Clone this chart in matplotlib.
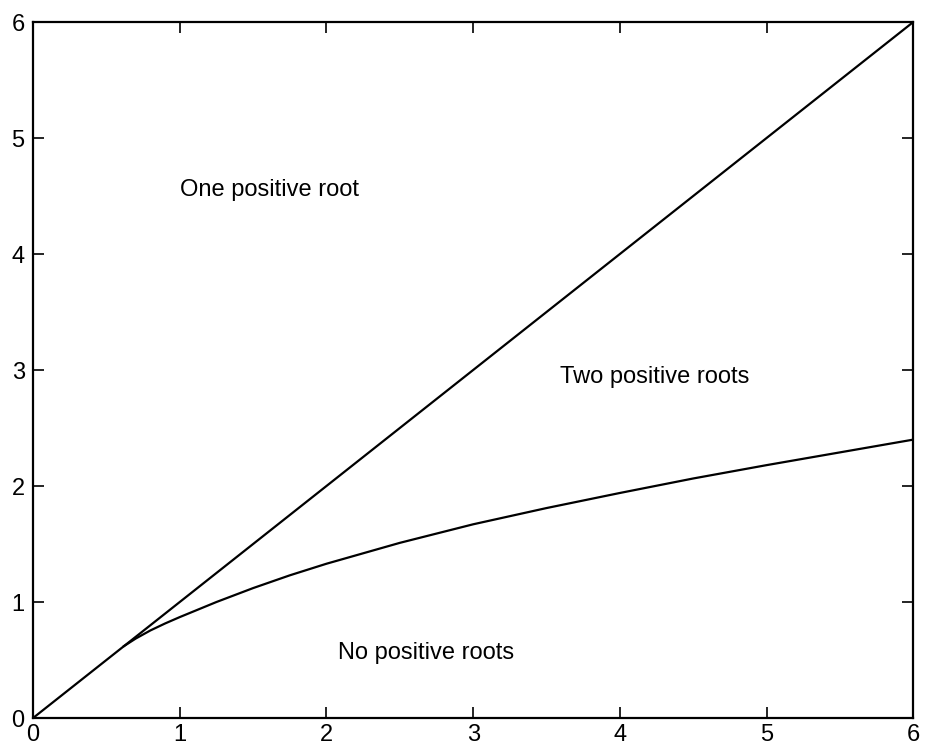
import numpy as np
import matplotlib.pyplot as plt

plt.rcParams["font.family"] = ["Liberation Sans", "DejaVu Sans"]

# boundary lines of the root-count regions
line_x = [0, 6]
line_y = [0, 6]

curve_x = [0.62, 0.7, 0.8, 0.9, 1.0, 1.25, 1.5, 1.75, 2.0, 2.5, 3.0, 3.5, 4.0, 4.5, 5.0, 5.5, 6.0]
curve_y = [0.62, 0.685, 0.755, 0.815, 0.87, 1.00, 1.12, 1.23, 1.33, 1.51, 1.67, 1.81, 1.94, 2.065, 2.18, 2.29, 2.40]

ticks = [0, 1, 2, 3, 4, 5, 6]

fig = plt.figure(figsize=(9.28, 7.47), dpi=100)
ax = fig.add_axes([0.0356, 0.0388, 0.9485, 0.9317])

ax.plot(line_x, line_y, color="black", linewidth=1.6)
ax.plot(curve_x, curve_y, color="black", linewidth=1.6)

ax.text(1.0, 4.55, "One positive root", fontsize=17, va="center", ha="left")
ax.text(3.59, 2.94, "Two positive roots", fontsize=17, va="center", ha="left")
ax.text(2.08, 0.56, "No positive roots", fontsize=17, va="center", ha="left")

ax.set_xlim(0, 6)
ax.set_ylim(0, 6)
ax.set_xticks(ticks)
ax.set_yticks(ticks)
ax.tick_params(direction="in", length=8, width=1.2, top=True, right=True,
               labelsize=17)
ax.tick_params(axis="x", pad=4)
ax.tick_params(axis="y", pad=6)
for s in ax.spines.values():
    s.set_linewidth(1.6)

fig.savefig("out.png", dpi=100)
